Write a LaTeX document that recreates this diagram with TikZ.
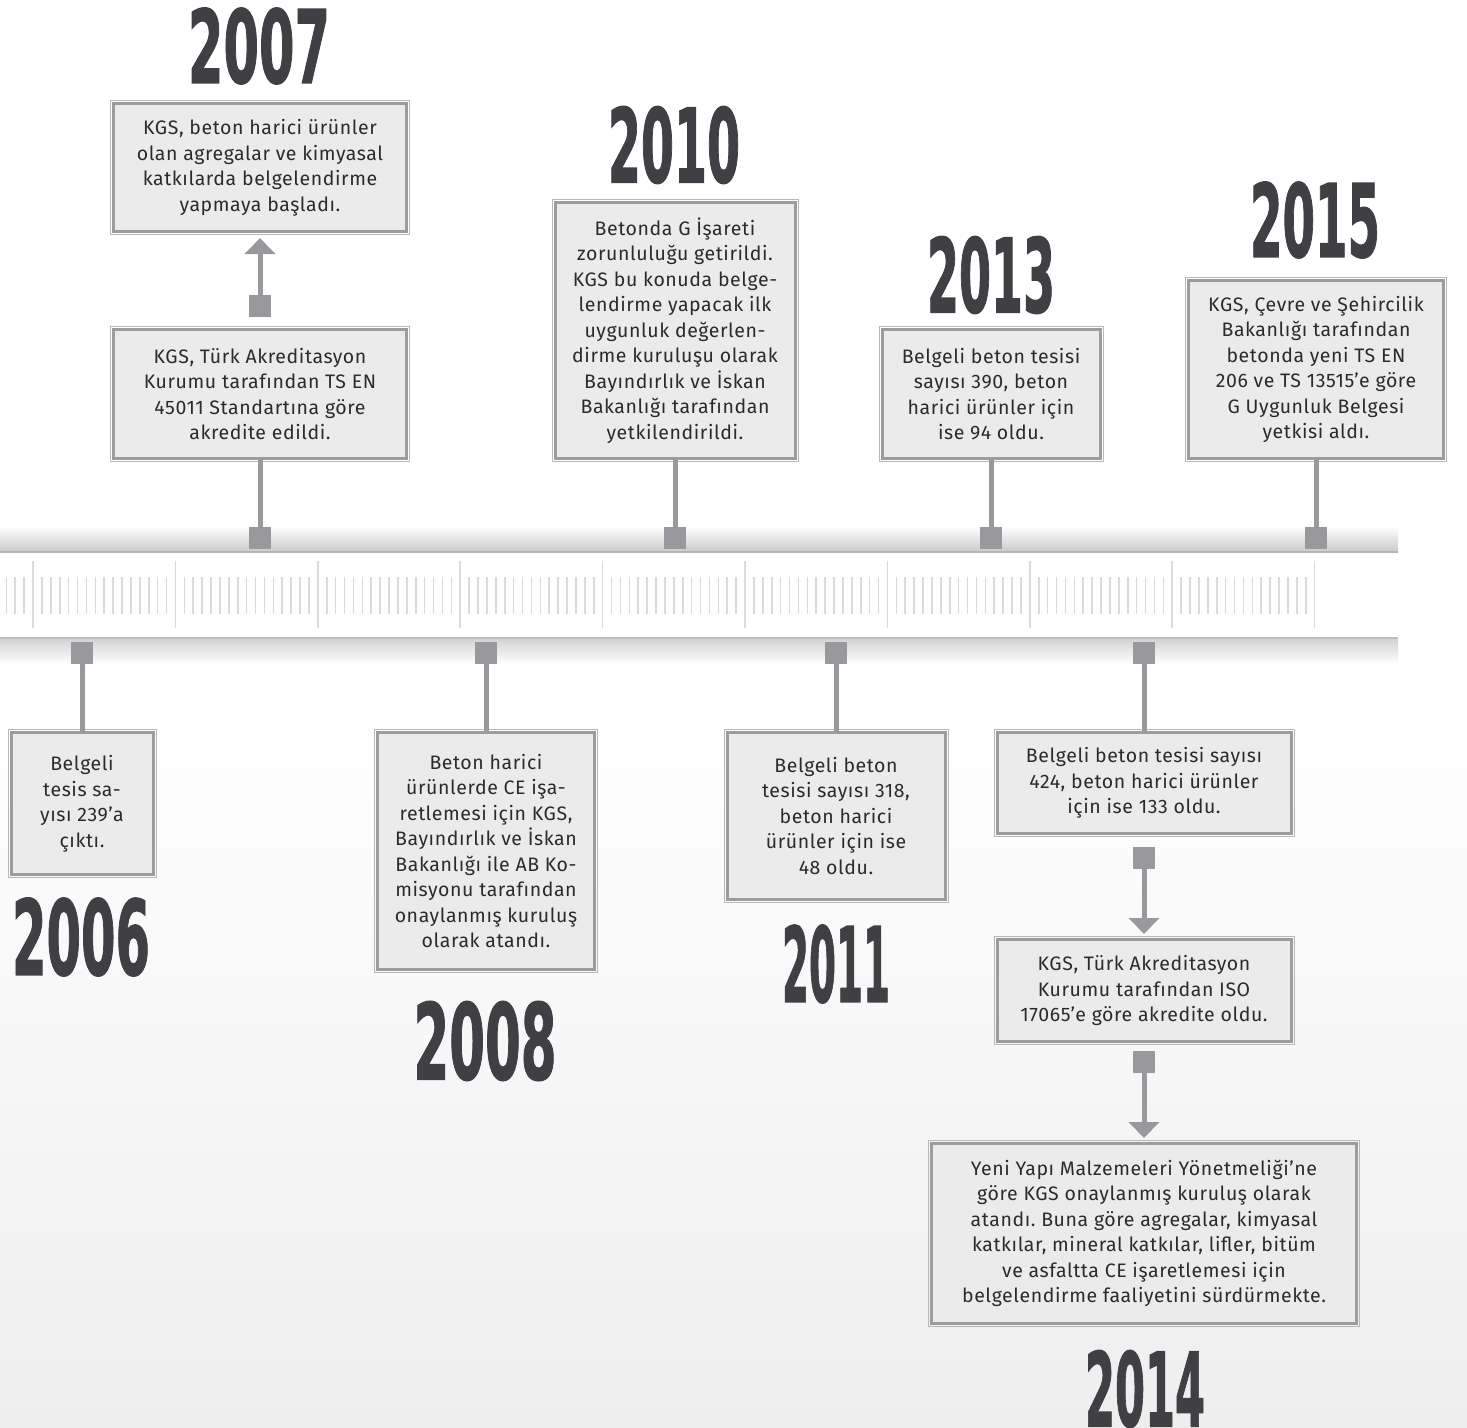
\documentclass[tikz,border=0pt]{standalone}
\usepackage{fontspec}
\setmainfont{Fira Sans}[LetterSpace=3]
\newfontfamily\yearfont{DejaVu Sans}[BoldFeatures={FakeBold=1.5}]
\usetikzlibrary{arrows.meta}
\definecolor{boxfill}{HTML}{EBEBEC}
\definecolor{boxline}{HTML}{9C9C9E}
\definecolor{boxouter}{HTML}{B8B8B8}
\definecolor{stemc}{HTML}{99989D}
\definecolor{txt}{HTML}{2B2B2B}
\definecolor{yearc}{HTML}{403F43}
\definecolor{tickc}{HTML}{D9DBDC}
\definecolor{bgbottom}{HTML}{EEEEEE}
\newcommand\yr[3]{\resizebox{#1pt}{#2pt}{\yearfont\bfseries #3}}
\tikzset{
  infobox/.style={draw=boxline, line width=3pt, fill=boxfill, align=center,
    text=txt, font=\fontsize{19.5}{25.5}\selectfont\frenchspacing, inner sep=0pt},
  yearlabel/.style={text=yearc, inner sep=0pt},
  marker/.style={fill=stemc, minimum size=22pt, inner sep=0pt, draw=none},
  stem/.style={draw=stemc, line width=5pt},
  arrowstem/.style={stem, -{Triangle[width=30pt,length=16pt]}},
  tickline/.style={draw=tickc, line width=1.6pt},
  outerline/.style={draw=boxouter, line width=1pt}
}
\begin{document}
\begin{tikzpicture}[x=1pt,y=-1pt]
\useasboundingbox (0,0) rectangle (1467,1427);
% background
\fill[white] (0,0) rectangle (1467,700);
\fill[top color=white, bottom color=bgbottom] (0,700) rectangle (1467,1427);
% timeline band
\fill[top color=white, bottom color=gray!40] (0,526) rectangle (1398,551);
\fill[gray!58] (0,551) rectangle (1398,553);
\fill[white] (0,553) rectangle (1398,637);
\fill[gray!52] (0,637) rectangle (1398,639);
\fill[top color=gray!34, bottom color=white] (0,639) rectangle (1398,664);
\foreach \k in {-3,...,144}{
  \pgfmathsetmacro\tx{33+8.9*\k}
  \pgfmathtruncatemacro\m{mod(\k+48,16)}
  \ifnum\m=0
    \draw[tickline] (\tx,561) -- (\tx,628);
  \else
    \draw[tickline] (\tx,577) -- (\tx,614);
  \fi
}
% boxes (top)
\node[infobox, minimum width=293pt, minimum height=128pt] (b07a) at (260,167.5)
  {KGS, beton harici ürünler\\olan agregalar ve kimyasal\\katkılarda belgelendirme\\yapmaya başladı.};
\node[infobox, minimum width=293pt, minimum height=129pt] (b07b) at (260,394)
  {KGS, Türk Akreditasyon\\Kurumu tarafından TS EN\\45011 Standartına göre\\akredite edildi.};
\node[infobox, minimum width=240pt, minimum height=256pt] (b10) at (675,330.5)
  {Betonda G İşareti\\zorunluluğu getirildi.\\KGS bu konuda belge-\\lendirme yapacak ilk\\uygunluk değerlen-\\dirme kuruluşu olarak\\Bayındırlık ve İskan\\Bakanlığı tarafından\\yetkilendirildi.};
\node[infobox, minimum width=218pt, minimum height=129pt] (b13) at (991,394)
  {Belgeli beton tesisi\\sayısı 390, beton\\harici ürünler için\\ise 94 oldu.};
\node[infobox, minimum width=255pt, minimum height=178pt] (b15) at (1316,369.5)
  {KGS, Çevre ve Şehircilik\\Bakanlığı tarafından\\betonda yeni TS EN\\206 ve TS 13515’e göre\\G Uygunluk Belgesi\\yetkisi aldı.};
% boxes (bottom)
\node[infobox, minimum width=142pt, minimum height=142pt] (b06) at (82,803.5)
  {Belgeli\\tesis sa-\\yısı 239’a\\çıktı.};
\node[infobox, minimum width=217pt, minimum height=237pt] (b08) at (486,851)
  {Beton harici\\ürünlerde CE işa-\\retlemesi için KGS,\\Bayındırlık ve İskan\\Bakanlığı ile AB Ko-\\misyonu tarafından\\onaylanmış kuruluş\\olarak atandı.};
\node[infobox, minimum width=218pt, minimum height=167pt] (b11) at (836,816)
  {Belgeli beton\\tesisi sayısı 318,\\beton harici\\ürünler için ise\\48 oldu.};
\node[infobox, minimum width=294pt, minimum height=101pt] (b14a) at (1144,783)
  {Belgeli beton tesisi sayısı\\424, beton harici ürünler\\için ise 133 oldu.};
\node[infobox, minimum width=294pt, minimum height=102pt] (b14b) at (1144,990.5)
  {KGS, Türk Akreditasyon\\Kurumu tarafından ISO\\17065’e göre akredite oldu.};
\node[infobox, minimum width=425pt, minimum height=180pt] (b14c) at (1144,1233.5)
  {Yeni Yapı Malzemeleri Yönetmeliği’ne\\göre KGS onaylanmış kuruluş olarak\\atandı. Buna göre agregalar, kimyasal\\katkılar, mineral katkılar, lifler, bitüm\\ve asfaltta CE işaretlemesi için\\belgelendirme faaliyetini sürdürmekte.};
\foreach \b in {b07a,b07b,b10,b13,b15,b06,b08,b11,b14a,b14b,b14c}{
  \draw[outerline] ([xshift=-1.5pt,yshift=1.5pt]\b.north west) rectangle ([xshift=1.5pt,yshift=-1.5pt]\b.south east);
}
% markers on the timeline
\node[marker] (m07) at (260,538) {};
\node[marker] (m10) at (675,538) {};
\node[marker] (m13) at (991,538) {};
\node[marker] (m15) at (1316,538) {};
\node[marker] (m06) at (82,653) {};
\node[marker] (m08) at (486,653) {};
\node[marker] (m11) at (836,653) {};
\node[marker] (m14) at (1144,653) {};
% markers between boxes
\node[marker] (m07b) at (260,306) {};
\node[marker] (m14b) at (1144,857.5) {};
\node[marker] (m14c) at (1144,1062) {};
% stems
\draw[stem] (b07b.south) -- (m07.center);
\draw[stem] (b10.south) -- (m10.center);
\draw[stem] (b13.south) -- (m13.center);
\draw[stem] (b15.south) -- (m15.center);
\draw[stem] (m06.center) -- (b06.north);
\draw[stem] (m08.center) -- (b08.north);
\draw[stem] (m11.center) -- (b11.north);
\draw[stem] (m14.center) -- (b14a.north);
\node[marker] at (m07) {};
\node[marker] at (m10) {};
\node[marker] at (m13) {};
\node[marker] at (m15) {};
\node[marker] at (m06) {};
\node[marker] at (m08) {};
\node[marker] at (m11) {};
\node[marker] at (m14) {};
% arrows
\draw[arrowstem, shorten >=5pt] (m07b.center) -- (b07a.south);
\draw[arrowstem, shorten >=4pt] (m14b.center) -- (b14b.north);
\draw[arrowstem, shorten >=4pt] (m14c.center) -- (b14c.north);
% years
\node[yearlabel] (y07) at (259,46) {\yr{142}{75}{2007}};
\node[yearlabel] (y10) at (674,145) {\yr{132}{76}{2010}};
\node[yearlabel] (y13) at (991,275) {\yr{128}{76}{2013}};
\node[yearlabel] (y15) at (1315,220) {\yr{130}{75}{2015}};
\node[yearlabel] (y06) at (81,937) {\yr{138}{77}{2006}};
\node[yearlabel] (y08) at (485,1041) {\yr{143}{78}{2008}};
\node[yearlabel] (y11) at (836,964) {\yr{108}{77}{2011}};
\node[yearlabel] (y14) at (1145,1389) {\yr{120}{76}{2014}};
\end{tikzpicture}
\end{document}
